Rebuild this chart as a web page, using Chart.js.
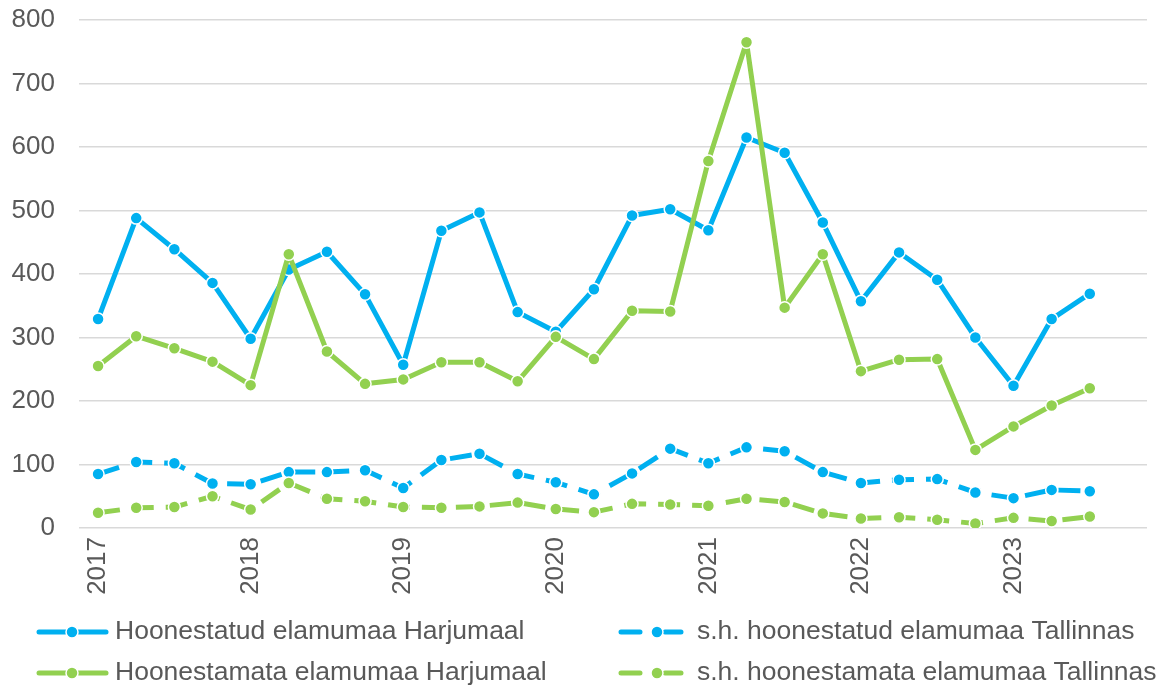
<!DOCTYPE html>
<html>
<head>
<meta charset="utf-8">
<script src="https://cdn.jsdelivr.net/npm/chart.js@4/dist/chart.umd.min.js"></script>
<style>
  html, body { margin: 0; padding: 0; background: #fff; }
  #wrap { position: relative; width: 1171px; height: 689px; }
</style>
</head>
<body>
<div id="wrap"><canvas id="c" width="1171" height="689"></canvas></div>
<script>
// Categories: quarters 2017 Q1 .. 2023 Q4
const years = ["2017", "2018", "2019", "2020", "2021", "2022", "2023"];
const quarters = ["Q1", "Q2", "Q3", "Q4"];
const categories = [];
years.forEach(y => quarters.forEach(q => categories.push(y + " " + q)));

const harjuBuilt = [329, 488, 439, 386, 298, 407, 435, 368, 257, 468, 497, 340, 309, 376, 492, 502, 469, 615, 591, 481, 357, 434, 391, 300, 224, 329, 369, null];
const tallinnBuilt = [85, 104, 102, 70, 69, 88, 88, 91, 63, 107, 117, 85, 72, 53, 86, 125, 102, 127, 121, 88, 71, 76, 77, 56, 47, 60, 58, null];
const harjuUnbuilt = [255, 302, 283, 262, 225, 431, 278, 227, 234, 261, 261, 231, 301, 266, 342, 341, 578, 765, 347, 431, 247, 265, 266, 123, 160, 193, 220, null];
const tallinnUnbuilt = [24, 32, 33, 50, 29, 71, 46, 42, 33, 32, 34, 40, 30, 25, 38, 37, 35, 46, 41, 23, 15, 17, 13, 7, 16, 11, 18, null];

const seriesNames = [
  "Hoonestatud elamumaa Harjumaal",
  "s.h. hoonestatud elamumaa Tallinnas",
  "Hoonestamata elamumaa Harjumaal",
  "s.h. hoonestamata elamumaa Tallinnas"
];
const yTicks = [0, 100, 200, 300, 400, 500, 600, 700, 800];

const BLUE = "#00B0F0";
const GREEN = "#92D050";
const TXT = "#595959";
const FONT = "'Liberation Sans', Arial, sans-serif";
const DASH = [22, 12];

function ds(label, data, color, dashed, order) {
  return {
    label, data, order,
    borderColor: color,
    backgroundColor: color,
    borderWidth: 5,
    borderDash: dashed ? DASH : [],
    borderCapStyle: 'butt',
    borderJoinStyle: 'round',
    tension: 0,
    pointRadius: 6,
    pointHoverRadius: 6,
    pointBackgroundColor: color,
    pointBorderColor: "#ffffff",
    pointBorderWidth: 1.5,
    fill: false
  };
}

const legendPlugin = {
  id: 'customLegend',
  afterDraw(chart) {
    const ctx = chart.ctx;
    ctx.save();
    const items = [
      { name: seriesNames[0], color: BLUE, dashed: false, x: 37, y: 632 },
      { name: seriesNames[1], color: BLUE, dashed: true, x: 619, y: 632 },
      { name: seriesNames[2], color: GREEN, dashed: false, x: 37, y: 673 },
      { name: seriesNames[3], color: GREEN, dashed: true, x: 619, y: 673 }
    ];
    items.forEach(it => {
      ctx.strokeStyle = it.color;
      ctx.fillStyle = it.color;
      ctx.lineWidth = 5;
      ctx.lineCap = 'round';
      let textX;
      if (!it.dashed) {
        ctx.beginPath();
        ctx.moveTo(it.x + 2, it.y);
        ctx.lineTo(it.x + 69, it.y);
        ctx.stroke();
        ctx.beginPath();
        ctx.arc(it.x + 35, it.y, 6, 0, Math.PI * 2);
        ctx.fill();
        ctx.strokeStyle = '#fff'; ctx.lineWidth = 1.5; ctx.stroke();
        textX = 115;
      } else {
        ctx.beginPath();
        ctx.moveTo(it.x + 2, it.y); ctx.lineTo(it.x + 21, it.y);
        ctx.moveTo(it.x + 46, it.y); ctx.lineTo(it.x + 62, it.y);
        ctx.stroke();
        ctx.beginPath();
        ctx.arc(it.x + 38, it.y, 6, 0, Math.PI * 2);
        ctx.fill();
        ctx.strokeStyle = '#fff'; ctx.lineWidth = 1.5; ctx.stroke();
        textX = 697;
      }
      ctx.fillStyle = TXT;
      ctx.font = "26.5px " + FONT;
      ctx.textBaseline = 'middle';
      ctx.textAlign = 'left';
      ctx.fillText(it.name, textX, it.y);
    });
    ctx.restore();
  }
};

new Chart(document.getElementById('c'), {
  type: 'line',
  data: {
    labels: categories,
    datasets: [
      ds(seriesNames[0], harjuBuilt, BLUE, false, 4),
      ds(seriesNames[1], tallinnBuilt, BLUE, true, 3),
      ds(seriesNames[2], harjuUnbuilt, GREEN, false, 2),
      ds(seriesNames[3], tallinnUnbuilt, GREEN, true, 1)
    ]
  },
  options: {
    responsive: false,
    animation: false,
    devicePixelRatio: 1,
    layout: { padding: { left: 12, right: 24, top: 20, bottom: 94 } },
    plugins: {
      legend: { display: false },
      tooltip: { enabled: false }
    },
    scales: {
      x: {
        type: 'category',
        offset: true,
        grid: { display: false, drawTicks: false },
        border: { display: false },
        afterFit: (axis) => { axis.height = 67; axis.paddingLeft = 0; axis.paddingRight = 0; },
        ticks: {
          autoSkip: false,
          maxRotation: 90,
          minRotation: 90,
          padding: 9,
          color: TXT,
          font: { family: FONT, size: 26 },
          callback: function(val, idx) {
            return idx % 4 === 0 ? years[idx / 4] : '';
          }
        }
      },
      y: {
        min: 0,
        max: 800,
        afterBuildTicks: (axis) => { axis.ticks = yTicks.map(v => ({ value: v })); },
        afterFit: (axis) => { axis.width = 67; axis.paddingTop = 0; axis.paddingBottom = 0; },
        grid: { color: '#d9d9d9', lineWidth: 1.5, drawTicks: false },
        border: { display: false },
        ticks: {
          padding: 24,
          color: TXT,
          font: { family: FONT, size: 26 }
        }
      }
    }
  },
  plugins: [legendPlugin]
});
</script>
</body>
</html>
